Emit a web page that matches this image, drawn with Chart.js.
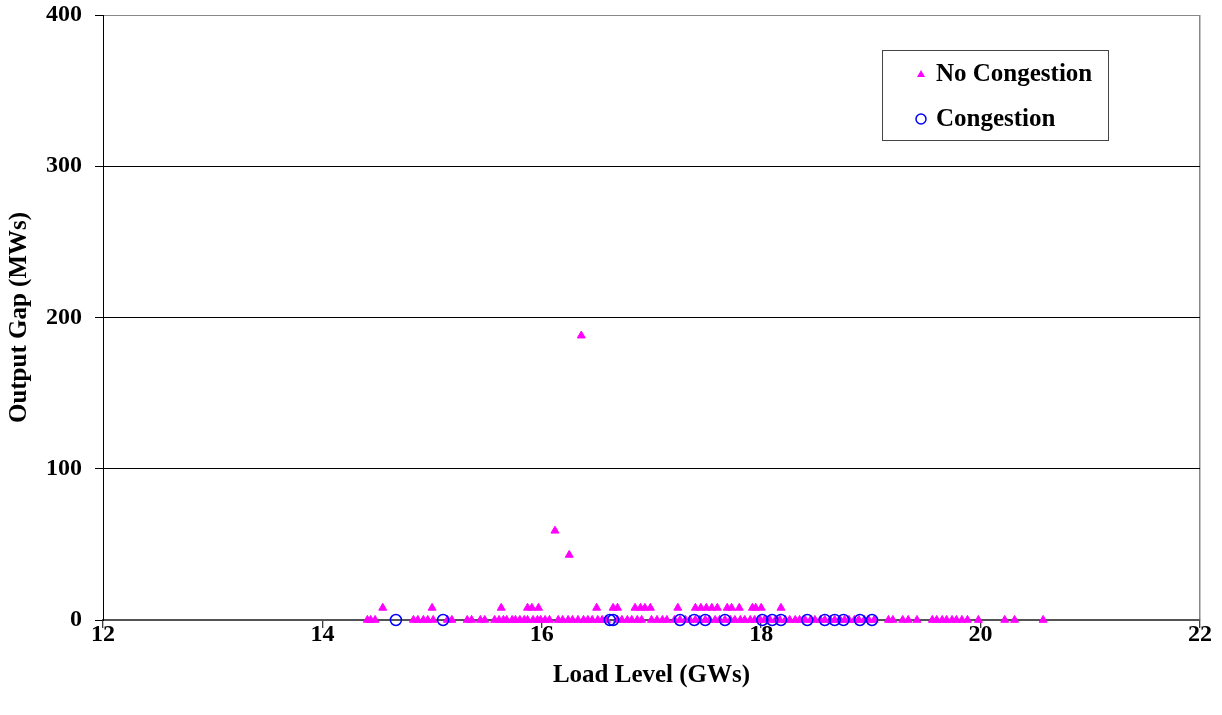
<!DOCTYPE html>
<html>
<head>
<meta charset="utf-8">
<script src="https://cdn.jsdelivr.net/npm/chart.js@4.4.0/dist/chart.umd.min.js"></script>
<style>
  html, body { margin: 0; padding: 0; background: #fff; }
  #wrap { width: 1222px; height: 715px; }
</style>
</head>
<body>
<div id="wrap"><canvas id="grafico" width="1222" height="715"></canvas></div>
<script>
// Load levels (GW) of hours without congestion, output gap 0 MW
const noCongFlatLoad = [14.41, 14.44, 14.48, 14.83, 14.87, 14.92, 14.96, 15.01, 15.14, 15.18,
  15.32, 15.36, 15.44, 15.48, 15.57, 15.61, 15.65, 15.68, 15.73, 15.76, 15.80, 15.84, 15.87,
  15.92, 15.96, 15.99, 16.03, 16.07, 16.15, 16.19, 16.24, 16.28, 16.33, 16.38, 16.42, 16.46,
  16.51, 16.55, 16.59, 16.69, 16.73, 16.78, 16.82, 16.87, 16.91, 17.00, 17.05, 17.10, 17.14,
  17.21, 17.26, 17.31, 17.35, 17.40, 17.44, 17.49, 17.53, 17.58, 17.62, 17.67, 17.72, 17.76,
  17.81, 17.85, 17.90, 17.94, 17.99, 18.03, 18.08, 18.13, 18.17, 18.22, 18.26, 18.31, 18.35,
  18.40, 18.45, 18.49, 18.54, 18.58, 18.63, 18.67, 18.72, 18.76, 18.80, 18.85, 18.89, 18.94,
  18.98, 19.03, 19.16, 19.20, 19.29, 19.34, 19.42, 19.56, 19.60, 19.65, 19.69, 19.74, 19.78,
  19.83, 19.88, 19.98, 20.22, 20.31, 20.57];
// no congestion, small gap (~8 MW)
const noCongLowLoad = [14.55, 15.00, 15.63, 15.87, 15.91, 15.97, 16.50, 16.65, 16.69, 16.85,
  16.90, 16.94, 16.99, 17.24, 17.40, 17.45, 17.50, 17.55, 17.60, 17.69, 17.73, 17.80, 17.92,
  17.95, 18.00, 18.18];
const noCongLowGap = 8;
// no congestion, large gaps
const noCongPeakLoad = [16.12, 16.25, 16.36];
const noCongPeakGap = [59, 43, 188];

// congestion hours, all with output gap 0
const congLoad = [14.67, 15.10, 16.62, 16.65, 17.26, 17.39, 17.49, 17.67, 18.01, 18.10, 18.18,
  18.42, 18.58, 18.67, 18.75, 18.90, 19.01];
const congGap = 0;

const xTicks = [12, 14, 16, 18, 20, 22];
const yTicks = [0, 100, 200, 300, 400];

const fuente = "'Liberation Serif', 'Times New Roman', serif";

const puntosNoCong = [
  ...noCongFlatLoad.map(x => ({ x, y: 0 })),
  ...noCongLowLoad.map(x => ({ x, y: noCongLowGap })),
  ...noCongPeakLoad.map((x, i) => ({ x, y: noCongPeakGap[i] }))
];
const puntosCong = congLoad.map(x => ({ x, y: congGap }));

// leyenda dentro del area del grafico
const leyendaPlugin = {
  id: "leyendaCaja",
  afterDraw(chart) {
    const ctx = chart.ctx;
    ctx.save();
    ctx.strokeStyle = "#444";
    ctx.lineWidth = 1;
    ctx.fillStyle = "#fff";
    ctx.fillRect(882.5, 50.5, 226, 90);
    ctx.strokeRect(882.5, 50.5, 226, 90);

    // triangulo
    ctx.fillStyle = "#FF00FF";
    ctx.beginPath();
    ctx.moveTo(921, 70);
    ctx.lineTo(925, 77);
    ctx.lineTo(917, 77);
    ctx.closePath();
    ctx.fill();

    // circulo
    ctx.strokeStyle = "#0000FF";
    ctx.lineWidth = 1.5;
    ctx.beginPath();
    ctx.arc(921, 119, 5, 0, Math.PI * 2);
    ctx.stroke();

    ctx.fillStyle = "#000";
    ctx.font = "bold 25px " + fuente;
    ctx.textBaseline = "middle";
    ctx.textAlign = "left";
    ctx.fillText("No Congestion", 936, 75);
    ctx.fillText("Congestion", 936, 120);
    ctx.restore();
  }
};

new Chart(document.getElementById("grafico"), {
  type: "scatter",
  data: {
    datasets: [
      {
        label: "No Congestion",
        data: puntosNoCong,
        pointStyle: "triangle",
        pointRadius: 4.6,
        pointBorderWidth: 1,
        backgroundColor: "#FF00FF",
        borderColor: "#FF00FF",
        clip: false,
        order: 1
      },
      {
        label: "Congestion",
        data: puntosCong,
        pointStyle: "circle",
        pointRadius: 5.5,
        pointBorderWidth: 1.5,
        backgroundColor: "rgba(0,0,0,0)",
        borderColor: "#0000FF",
        clip: false,
        order: 0
      }
    ]
  },
  options: {
    responsive: false,
    animation: false,
    layout: { padding: { top: 15, right: 22, bottom: 0, left: 0 } },
    plugins: {
      legend: { display: false },
      tooltip: { enabled: false }
    },
    scales: {
      x: {
        type: "linear",
        min: 12,
        max: 22,
        afterBuildTicks: s => { s.ticks = xTicks.map(v => ({ value: v })); },
        afterFit: s => {
          s.height = 95;
          s.paddingLeft = 0;
          s.paddingRight = 0;
        },
        border: { color: "#555", width: 1.5 },
        grid: {
          drawOnChartArea: true,
          color: c => (c.tick && c.tick.value === 22 ? "#888" : "rgba(0,0,0,0)"),
          lineWidth: 1.5,
          tickLength: 8,
          tickColor: "#000",
          tickWidth: 1
        },
        ticks: {
          color: "#000",
          padding: -8,
          font: { family: fuente, size: 24, weight: "bold" },
          maxRotation: 0
        },
        title: {
          display: true,
          text: "Load Level (GWs)",
          color: "#000",
          font: { family: fuente, size: 25, weight: "bold" },
          padding: { top: 0, bottom: 24 }
        }
      },
      y: {
        type: "linear",
        min: 0,
        max: 400,
        afterBuildTicks: s => { s.ticks = yTicks.map(v => ({ value: v })); },
        afterFit: s => {
          s.width = 103;
          s.paddingTop = 0;
          s.paddingBottom = 0;
        },
        border: { color: "#000", width: 1 },
        grid: {
          color: c => {
            const v = c.tick ? c.tick.value : null;
            if (v === 0) return "#555";
            if (v === 400) return "#888";
            return "#000";
          },
          lineWidth: 1,
          tickLength: 8,
          tickColor: "#000"
        },
        ticks: {
          color: "#000",
          padding: 13,
          font: { family: fuente, size: 24, weight: "bold" }
        },
        title: {
          display: true,
          text: "Output Gap (MWs)",
          color: "#000",
          font: { family: fuente, size: 25, weight: "bold" },
          padding: { top: 5, bottom: 0 }
        }
      }
    }
  },
  plugins: [leyendaPlugin]
});
</script>
</body>
</html>
